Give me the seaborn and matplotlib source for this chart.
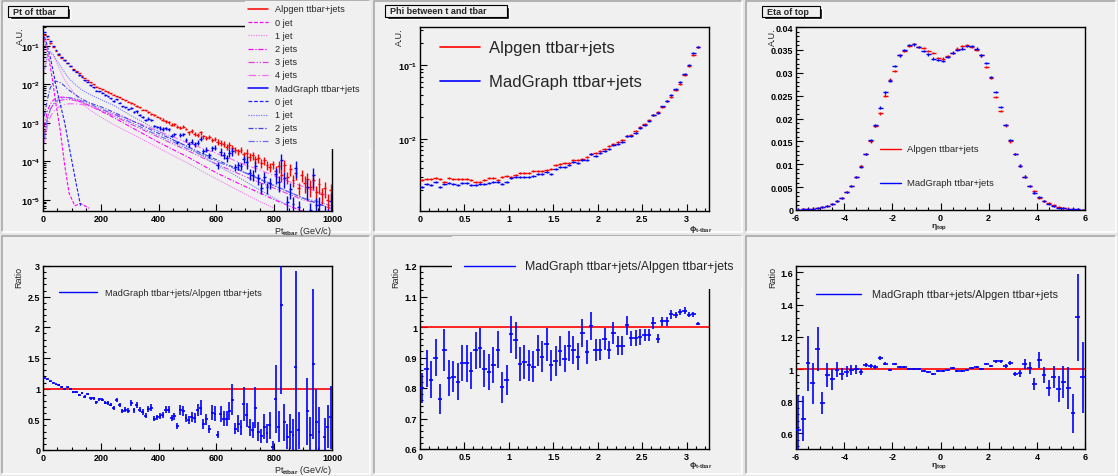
import numpy as np
import pandas as pd
import matplotlib
matplotlib.use("Agg")
import matplotlib.pyplot as plt
import seaborn as sns
from matplotlib.patches import Rectangle
from matplotlib.lines import Line2D
from matplotlib.ticker import LogLocator, NullFormatter, MultipleLocator, FuncFormatter

sns.set_style("ticks")
plt.rcParams["font.family"] = ["Liberation Sans", "DejaVu Sans"]
plt.rcParams["font.weight"] = "bold"
plt.rcParams["mathtext.fontset"] = "custom"
plt.rcParams["mathtext.rm"] = "Liberation Sans:bold"
plt.rcParams["mathtext.it"] = "Liberation Sans:bold"
plt.rcParams["mathtext.bf"] = "Liberation Sans:bold"
plt.rcParams["mathtext.default"] = "rm"

nan = np.nan

# ---------------- data: Pt of ttbar (10 GeV bins) ----------------
pt_bins = np.arange(5, 1000, 10)
pt_alpgen = [0.195, 0.151, 0.115, 0.091, 0.072, 0.059, 0.049, 0.042, 0.035, 0.030,
             0.025, 0.022, 0.019, 0.0166, 0.0145, 0.0129, 0.0112, 0.0100, 0.0087, 0.0079,
             0.0074, 0.0068, 0.0063, 0.0058, 0.0054, 0.0049, 0.0046, 0.0042, 0.0038, 0.0035,
             0.0032, 0.0030, 0.0027, 0.0025, 0.0022, 0.0021, 0.0019, 0.0017, 0.0016, 0.00145,
             0.00132, 0.00120, 0.00110, 0.00102, 0.00089, 0.00091, 0.00079, 0.00074, 0.00079, 0.00069,
             0.00056, 0.00060, 0.00052, 0.00047, 0.00056, 0.00044, 0.00040, 0.00042, 0.00035, 0.00038,
             0.00032, 0.00030, 0.00028, 0.00024, 0.00026, 0.00022, 0.00020, 0.00018, 0.00020, 0.00015,
             0.000166, 0.000132, 0.000141, 0.000112, 0.000120, 0.000089, 0.000105, 0.000079, 0.000071, 0.000083,
             0.000056, 0.000076, 0.000045, 0.000079, 0.000040, 0.000063, 0.000032, 0.000050, 0.000020, 0.000045,
             0.000028, 0.000035, 0.000022, 0.000032, 0.000016, 0.000025, 0.000014, 0.000020, 0.000010, 0.000018]
pt_madgraph = [0.228, 0.174, 0.129, 0.100, 0.0774, 0.0624, 0.0505, 0.0413, 0.0362, 0.0295,
               0.0239, 0.0208, 0.0171, 0.0154, 0.0126, 0.0117, 0.00942, 0.00839, 0.00679, 0.00659,
               0.00608, 0.0052, 0.00485, 0.00426, 0.00366, 0.00402, 0.00333, 0.00267, 0.00251, 0.00222,
               0.00243, 0.00192, 0.00196, 0.00162, 0.00139, 0.00117, 0.00128, 0.0012, 0.00081, 0.000766,
               0.000738, 0.000685, 0.000724, 0.000676, 0.000463, 0.000501, 0.00031, 0.000482, 0.000501, 0.00036,
               0.000275, 0.000325, 0.000273, 0.000304, 0.000388, 0.000183, 0.000199, 0.000142, 0.000216, 0.000224,
               0.000079, 0.000178, 0.000144, 0.000122, 0.000168, 0.000179, 0.0000698, 0.000078, 0.000074, 0.000114,
               0.000095, 0.000049, 0.000045, 0.000077, 0.000036, 0.0000205, 0.000040, 0.000021, 0.000028, 0.0000042,
               0.000047, 0.000029, 0.000106, 0.000036, 0.0000087, 0.000019, 0.0000079, 0.000068, 0.0000064, nan,
               nan, 0.000022, 0.0000054, 0.000044, 0.0000071, 0.0000075, nan, 0.0000044, 0.0000038, 0.0000094]
# relative errors, one estimate per 100 GeV block
pt_alpgen_relerr = np.repeat([0.01, 0.02, 0.035, 0.05, 0.08, 0.12, 0.18, 0.25, 0.35, 0.45], 10)
pt_madgraph_relerr = np.repeat([0.012, 0.025, 0.04, 0.07, 0.10, 0.15, 0.22, 0.32, 0.45, 0.55], 10)

pt_ratio = [1.17, 1.15, 1.12, 1.10, 1.07, 1.06, 1.03, 0.99, 1.02, 1.00,
            0.95, 0.95, 0.90, 0.93, 0.87, 0.91, 0.84, 0.84, 0.78, 0.83,
            0.82, 0.77, 0.77, 0.74, 0.68, 0.82, 0.73, 0.64, 0.66, 0.64,
            0.77, 0.65, 0.73, 0.66, 0.62, 0.56, 0.67, 0.69, 0.51, 0.53,
            0.56, 0.57, 0.66, 0.66, 0.52, 0.55, 0.39, 0.65, 0.63, 0.52,
            0.49, 0.54, 0.52, 0.65, 0.69, 0.42, 0.50, 0.34, 0.61, 0.59,
            0.25, 0.59, 0.51, 0.51, 0.64, 0.82, 0.35, 0.43, 0.37, 0.75,
            0.57, 0.37, 0.32, 0.69, 0.30, 0.23, 0.38, 0.27, 0.40, 0.05,
            0.83, 0.38, 2.37, 0.45, 0.22, 0.30, 0.25, 1.36, 0.32, nan,
            nan, 0.63, 0.24, 1.40, 0.45, 0.30, nan, 0.22, 0.38, 0.53]
pt_ratio_err = [0.010, 0.010, 0.010, 0.010, 0.012, 0.012, 0.013, 0.014, 0.015, 0.015,
                0.016, 0.017, 0.018, 0.019, 0.020, 0.021, 0.022, 0.023, 0.024, 0.025,
                0.026, 0.028, 0.029, 0.030, 0.031, 0.033, 0.034, 0.035, 0.036, 0.038,
                0.045, 0.040, 0.045, 0.042, 0.045, 0.045, 0.050, 0.055, 0.040, 0.045,
                0.050, 0.050, 0.060, 0.060, 0.055, 0.060, 0.045, 0.080, 0.080, 0.070,
                0.070, 0.080, 0.080, 0.100, 0.120, 0.080, 0.090, 0.070, 0.120, 0.120,
                0.060, 0.130, 0.120, 0.120, 0.150, 0.250, 0.090, 0.140, 0.120, 0.270,
                0.200, 0.140, 0.130, 0.330, 0.150, 0.120, 0.200, 0.150, 0.220, 0.100,
                0.550, 0.250, 1.450, 0.300, 0.200, 0.280, 0.250, 1.560, 0.300, 0.0,
                0.0, 0.550, 0.300, 1.220, 0.550, 0.400, 0.0, 0.300, 0.350, 0.520]

# jet-multiplicity components (sampled along pt)
comp_pt = [5, 15, 25, 35, 45, 60, 75, 90, 110, 130, 160, 200, 250, 300, 350, 400,
           450, 500, 550, 600, 650, 700, 750, 800, 850, 900, 950, 995]
alp_0j = [0.15, 0.07, 0.03, 0.01, 0.003, 6e-4, 8e-5, 1.5e-5, 7e-6, 8e-6, 6e-6] + [nan] * 17
alp_1j = [0.02, 0.05, 0.065, 0.055, 0.04, 0.022, 0.013, 0.009, 0.0055, 0.0035, 0.0022, 0.0014,
          8.5e-4, 5.5e-4, 3.5e-4, 2.2e-4, 1.4e-4, 9e-5, 5.5e-5, 3.5e-5, 2.2e-5, 1.4e-5, 9e-6, 6e-6,
          nan, nan, nan, nan]
alp_2j = [8e-4, 2e-3, 3e-3, 3.8e-3, 4.3e-3, 4.6e-3, 4.6e-3, 4.4e-3, 4e-3, 3.5e-3, 2.8e-3, 2e-3,
          1.3e-3, 8e-4, 5e-4, 3.1e-4, 2e-4, 1.3e-4, 8e-5, 5e-5, 3.3e-5, 2.2e-5, 1.5e-5, 1e-5,
          7e-6, 5e-6, nan, nan]
alp_3j = [5e-4, 1.3e-3, 2.2e-3, 2.9e-3, 3.4e-3, 3.8e-3, 4e-3, 4e-3, 3.8e-3, 3.4e-3, 2.8e-3, 2.1e-3,
          1.45e-3, 9.5e-4, 6.3e-4, 4.2e-4, 2.8e-4, 1.9e-4, 1.25e-4, 8.5e-5, 5.8e-5, 4e-5, 2.8e-5,
          2e-5, 1.4e-5, 1e-5, 8e-6, 6e-6]
alp_4j = [3e-4, 8e-4, 1.4e-3, 1.9e-3, 2.3e-3, 2.7e-3, 3e-3, 3.1e-3, 3.1e-3, 3e-3, 2.7e-3, 2.2e-3,
          1.65e-3, 1.2e-3, 8.5e-4, 6e-4, 4.3e-4, 3e-4, 2.2e-4, 1.6e-4, 1.15e-4, 8e-5, 6e-5, 4.2e-5,
          3e-5, 2.2e-5, 1.6e-5, 1.2e-5]
mg_0j = [0.17, 0.1, 0.05, 0.022, 0.009, 3e-3, 1e-3, 2.5e-4, 4e-5, 7e-6] + [nan] * 18
mg_1j = [0.025, 0.055, 0.07, 0.06, 0.045, 0.03, 0.02, 0.014, 0.01, 7.5e-3, 5.5e-3, 4e-3, 2.7e-3,
         1.6e-3, 1e-3, 6e-4, 3.6e-4, 2.4e-4, 1.4e-4, 8e-5, 5e-5, 3e-5, 1.8e-5, 1.1e-5, 7e-6,
         nan, nan, nan]
mg_2j = [1.5e-3, 4e-3, 8e-3, 0.011, 0.012, 0.011, 9e-3, 7e-3, 5.5e-3, 4.3e-3, 3.3e-3, 2.6e-3,
         1.8e-3, 1.2e-3, 8e-4, 5.3e-4, 3.6e-4, 2.4e-4, 1.6e-4, 1.1e-4, 7.5e-5, 5e-5, 3.4e-5,
         2.3e-5, 1.6e-5, 1.1e-5, 8e-6, 6e-6]
mg_3j = [4e-4, 1.2e-3, 2.2e-3, 3e-3, 3.6e-3, 4.2e-3, 4.5e-3, 4.5e-3, 4.2e-3, 3.8e-3, 3.1e-3, 2.3e-3,
         1.6e-3, 1.05e-3, 7e-4, 4.6e-4, 3.2e-4, 2.1e-4, 1.45e-4, 1e-4, 7e-5, 5e-5, 3.5e-5, 2.4e-5,
         1.6e-5, 1.1e-5, 9e-6, 7e-6]

# ---------------- data: phi between t and tbar (0.05 bins) ----------------
phi_bins = np.round(np.arange(63) * 0.05 + 0.025, 3)
phi_alpgen = np.array([2.76, 2.82, 2.85, 2.88, 2.85, 2.56, 2.94, 2.85, 2.85, 2.79,
                       2.79, 2.70, 2.56, 2.56, 2.76, 2.94, 2.94, 2.76, 3.00, 3.06,
                       3.00, 3.16, 3.44, 3.37, 3.44, 3.59, 3.59, 3.62, 3.74, 3.82,
                       4.33, 4.52, 4.61, 4.66, 5.17, 5.12, 5.23, 5.62, 6.11, 6.31,
                       6.79, 7.16, 7.86, 8.37, 9.01, 9.69, 10.9, 11.3, 12.6, 14.6,
                       15.7, 17.8, 20.8, 23.1, 27.0, 32.3, 37.4, 45.6, 56.2, 73.1,
                       96.9, 140.0, 176.0]) * 1e-3
phi_madgraph = np.array([2.21, 2.43, 2.36, 2.59, 2.18, 2.37, 2.45, 2.39, 2.34, 2.46,
                         2.46, 2.31, 2.36, 2.39, 2.38, 2.50, 2.58, 2.56, 2.41, 2.53,
                         2.93, 3.02, 3.02, 2.98, 3.01, 3.12, 3.31, 3.27, 3.53, 3.34,
                         3.85, 4.16, 4.13, 4.37, 4.78, 4.62, 5.13, 5.16, 6.13, 5.84,
                         6.29, 6.88, 7.27, 8.20, 8.46, 9.10, 10.95, 10.9, 12.1, 14.1,
                         15.3, 17.3, 21.1, 22.2, 27.5, 32.9, 38.9, 47.4, 59.0, 77.0,
                         100.8, 145.7, 178.0]) * 1e-3
phi_relerr = 0.03
phi_ratio = [0.800, 0.863, 0.827, 0.900, 0.764, 0.925, 0.833, 0.837, 0.821, 0.882,
             0.881, 0.857, 0.923, 0.932, 0.863, 0.852, 0.876, 0.926, 0.802, 0.827,
             0.976, 0.956, 0.879, 0.885, 0.874, 0.870, 0.923, 0.903, 0.943, 0.874,
             0.888, 0.921, 0.896, 0.937, 0.925, 0.903, 0.980, 0.918, 1.003, 0.925,
             0.926, 0.961, 0.925, 0.980, 0.939, 0.939, 1.005, 0.963, 0.964, 0.967,
             0.974, 0.974, 1.013, 0.961, 1.019, 1.019, 1.041, 1.040, 1.049, 1.054,
             1.040, 1.041, 1.011]
phi_ratio_err = [0.050, 0.060, 0.060, 0.060, 0.050, 0.070, 0.060, 0.050, 0.060, 0.060,
                 0.060, 0.060, 0.060, 0.065, 0.060, 0.060, 0.060, 0.060, 0.050, 0.050,
                 0.060, 0.060, 0.055, 0.055, 0.050, 0.050, 0.050, 0.050, 0.055, 0.050,
                 0.050, 0.050, 0.045, 0.050, 0.045, 0.045, 0.045, 0.040, 0.045, 0.035,
                 0.035, 0.035, 0.030, 0.035, 0.030, 0.030, 0.030, 0.025, 0.025, 0.025,
                 0.020, 0.020, 0.020, 0.015, 0.015, 0.015, 0.015, 0.010, 0.010, 0.010,
                 0.008, 0.008, 0.006]

# ---------------- data: eta of top (0.2 bins) ----------------
eta_bins = np.round(np.arange(60) * 0.2 - 5.9, 2)
eta_alpgen = [0.00008, 0.00012, 0.0002, 0.0003, 0.0004, 0.0006, 0.0009, 0.0013, 0.0020, 0.0027,
              0.0040, 0.0053, 0.0072, 0.0096, 0.0122, 0.0150, 0.0184, 0.0211, 0.0250, 0.0285,
              0.0304, 0.0338, 0.0347, 0.0359, 0.0363, 0.0356, 0.0354, 0.0348, 0.0343, 0.0333,
              0.0331, 0.0336, 0.0343, 0.0353, 0.0358, 0.0361, 0.0357, 0.0350, 0.0338, 0.0312,
              0.0289, 0.0247, 0.0216, 0.0185, 0.0150, 0.0122, 0.0097, 0.0073, 0.0053, 0.0042,
              0.0027, 0.0020, 0.0015, 0.0010, 0.0006, 0.0004, 0.0003, 0.0002, 0.0001, 0.00006]
eta_madgraph = [0.00008, 0.00015, 0.0002, 0.0003, 0.0004, 0.0007, 0.0009, 0.0013, 0.0020, 0.0027,
                0.0040, 0.0053, 0.0072, 0.0095, 0.0123, 0.0152, 0.0185, 0.0224, 0.0257, 0.0283,
                0.0314, 0.0338, 0.0350, 0.0360, 0.0362, 0.0356, 0.0347, 0.0340, 0.0331, 0.0328,
                0.0326, 0.0334, 0.0344, 0.0349, 0.0353, 0.0359, 0.0358, 0.0353, 0.0338, 0.0321,
                0.0290, 0.0258, 0.0225, 0.0186, 0.0153, 0.0122, 0.0097, 0.0073, 0.0053, 0.0038,
                0.0028, 0.0020, 0.0013, 0.0009, 0.0005, 0.0004, 0.0002, 0.0002, 0.00013, 0.00006]
eta_err = 0.00025
eta_ratio = [0.62, 0.69, 1.036, 0.91, 1.125, 0.79, 0.963, 0.936, 0.996, 0.969,
             0.984, 0.992, 0.998, 0.982, 1.025, 1.019, 1.011, 1.069, 1.032, 0.994,
             1.032, 1.015, 1.015, 1.002, 1.000, 1.000, 0.986, 0.980, 0.969, 0.986,
             0.986, 0.994, 1.007, 0.990, 0.986, 0.994, 1.004, 1.015, 1.002, 1.032,
             1.019, 1.048, 1.048, 1.021, 1.038, 0.969, 0.973, 1.032, 1.007, 0.907,
             1.056, 0.965, 0.882, 0.949, 0.874, 0.917, 0.880, 0.724, 1.322, 0.949]
eta_ratio_err = [0.22, 0.14, 0.17, 0.125, 0.135, 0.07, 0.075, 0.065, 0.045, 0.04,
                 0.035, 0.03, 0.03, 0.02, 0.015, 0.012, 0.012, 0.01, 0.01, 0.008,
                 0.006, 0.006, 0.006, 0.006, 0.006, 0.006, 0.006, 0.006, 0.006, 0.006,
                 0.006, 0.006, 0.006, 0.006, 0.006, 0.006, 0.006, 0.006, 0.006, 0.006,
                 0.008, 0.01, 0.01, 0.012, 0.012, 0.015, 0.02, 0.03, 0.035, 0.035,
                 0.05, 0.05, 0.05, 0.07, 0.08, 0.1, 0.13, 0.12, 0.27, 0.22]

PAD = "#f0f0f0"
W, H = 1118, 477
fig = plt.figure(figsize=(W / 100, H / 100), dpi=100, facecolor="#e6e6e6")


def fx(x):
    return x / W


def fy(y):
    return 1 - y / H


def axes_px(l, t, r, b):
    ax = fig.add_axes([l / W, 1 - b / H, (r - l) / W, (b - t) / H])
    ax.set_facecolor("none")
    return ax


def style_axes(ax):
    for s in ax.spines.values():
        s.set_color("black")
        s.set_linewidth(1.0)
    ax.tick_params(which="both", direction="in", top=False, right=False,
                   labelsize=6.5, pad=2, width=0.8, colors="black")
    ax.tick_params(which="major", length=5)
    ax.tick_params(which="minor", length=2.5)


def lin_ticks(ax, axis, major, minor):
    a = ax.xaxis if axis == "x" else ax.yaxis
    a.set_major_locator(MultipleLocator(major))
    a.set_minor_locator(MultipleLocator(minor))
    a.set_major_formatter(FuncFormatter(lambda v, p: f"{v:g}"))


def log_ticks(ax):
    ax.yaxis.set_major_locator(LogLocator(base=10, numticks=15))
    ax.yaxis.set_minor_locator(LogLocator(base=10, subs=np.arange(2, 10), numticks=15))
    ax.yaxis.set_minor_formatter(NullFormatter())


def points(ax, x, y, xerr, yerr, color, lw=1.0):
    ax.errorbar(x, y, xerr=xerr, yerr=yerr, fmt="none", ecolor=color,
                elinewidth=lw, capsize=0, zorder=3)


def legend_row(x0, x1, xt, y, color, ls, label, size, lw=1.0):
    fig.add_artist(Line2D([fx(x0), fx(x1)], [fy(y), fy(y)], transform=fig.transFigure,
                          color=color, ls=ls, lw=lw, zorder=9))
    fig.text(fx(xt), fy(y), label, fontsize=size, fontweight="normal",
             va="center", ha="left", zorder=9)


def title_box(l, t, r, b, text):
    fig.add_artist(Rectangle((fx(l + 1.5), fy(b + 1.5)), (r - l) / W, (b - t) / H,
                             transform=fig.transFigure, facecolor="black", zorder=7))
    fig.add_artist(Rectangle((fx(l), fy(b)), (r - l) / W, (b - t) / H,
                             transform=fig.transFigure, facecolor=PAD,
                             edgecolor="black", lw=0.8, zorder=7))
    fig.text(fx(l + 5), fy((t + b) / 2), text, fontsize=6.5, fontweight="bold",
             va="center", ha="left", zorder=8)


# pads (sunken bevel like the ROOT canvas)
for l, t, r, b in [(0, 0, 372, 235), (372, 0, 744, 235), (744, 0, 1118, 235),
                   (0, 235, 372, 477), (372, 235, 744, 477), (744, 235, 1118, 477)]:
    fig.add_artist(Rectangle((fx(l + 2), fy(b - 2)), (r - l - 4) / W, (b - t - 4) / H,
                             transform=fig.transFigure, facecolor=PAD, edgecolor="none", zorder=-10))
    fig.add_artist(Line2D([fx(l + 2), fx(l + 2), fx(r - 2)], [fy(b - 2), fy(t + 2), fy(t + 2)],
                          transform=fig.transFigure, color="#a8a8a8", lw=1.2, zorder=-9))
    fig.add_artist(Line2D([fx(l + 2), fx(r - 2), fx(r - 2)], [fy(b - 2), fy(b - 2), fy(t + 2)],
                          transform=fig.transFigure, color="white", lw=1.2, zorder=-9))

alp_styles = [("0 jet", alp_0j, "#ff00ff", (0, (3, 1.5))),
              ("1 jet", alp_1j, "#f07cf0", (0, (1, 1))),
              ("2 jets", alp_2j, "#ff00ff", (0, (4, 1.5, 1, 1.5))),
              ("3 jets", alp_3j, "#e040e0", (0, (5, 1.5, 1, 1.5, 1, 1.5))),
              ("4 jets", alp_4j, "#ff66ff", (0, (6, 2, 1, 2)))]
mg_styles = [("0 jet", mg_0j, "#2020ff", (0, (3, 1.5))),
             ("1 jet", mg_1j, "#7a7aff", (0, (1, 1))),
             ("2 jets", mg_2j, "#4040e0", (0, (4, 1.5, 1, 1.5))),
             ("3 jets", mg_3j, "#6a6aff", (0, (5, 1.5, 1, 1.5, 1, 1.5)))]

PHI_LABEL = r"$\phi_{t\text{-}tbar}$"

# ---------------- panel 1: Pt of ttbar ----------------
ax1 = axes_px(43, 27, 332, 212)
ax1.set_yscale("log")
for name, vals, c, ls in alp_styles + mg_styles:
    sns.lineplot(x=comp_pt, y=vals, ax=ax1, color=c, linestyle=ls, lw=0.8, errorbar=None)
pa = np.array(pt_alpgen)
pm = np.array(pt_madgraph)
points(ax1, pt_bins, pa, 5, pa * pt_alpgen_relerr, "red")
points(ax1, pt_bins, pm, 5, pm * pt_madgraph_relerr, "blue")
ax1.set_xlim(0, 1000)
ax1.set_ylim(5.1e-6, 0.325)
style_axes(ax1)
lin_ticks(ax1, "x", 200, 50)
log_ticks(ax1)
ax1.set_xlabel(r"Pt$_{ttbar}$ (GeV/c)", loc="right", fontsize=6.5)
ax1.xaxis.set_label_coords(1.0, -0.072)
ax1.set_ylabel("A.U.", loc="top", fontsize=6.5)
ax1.yaxis.set_label_coords(-18 / 289, 1.0)

fig.add_artist(Rectangle((fx(245), fy(150)), 126 / W, 148 / H, transform=fig.transFigure,
                         facecolor=PAD, edgecolor="none", zorder=8))
rows = [("Alpgen ttbar+jets", "red", "-")] + [(n, c, ls) for n, _, c, ls in alp_styles] + \
       [("MadGraph ttbar+jets", "blue", "-")] + [(n, c, ls) for n, _, c, ls in mg_styles]
for i, (lab, c, ls) in enumerate(rows):
    legend_row(248, 268, 275, 10 + 13.2 * i, c, ls, lab, 6.6, lw=1.1 if ls == "-" else 0.9)

# ---------------- panel 2: phi ----------------
ax2 = axes_px(420, 28, 709, 212)
ax2.set_yscale("log")
points(ax2, phi_bins, phi_alpgen, 0.025, phi_alpgen * phi_relerr, "red")
points(ax2, phi_bins, phi_madgraph, 0.025, phi_madgraph * phi_relerr, "blue")
ax2.set_xlim(0, 3.25)
ax2.set_ylim(1.03e-3, 0.334)
style_axes(ax2)
lin_ticks(ax2, "x", 0.5, 0.1)
log_ticks(ax2)
ax2.set_xlabel(PHI_LABEL, loc="right", fontsize=6)
ax2.xaxis.set_label_coords(1.01, -0.065)
ax2.set_ylabel("A.U.", loc="top", fontsize=6.5)
ax2.yaxis.set_label_coords(-16 / 289, 1.0)
legend_row(440, 480, 489, 48, "red", "-", "Alpgen ttbar+jets", 12, lw=1.2)
legend_row(440, 480, 489, 82, "blue", "-", "MadGraph ttbar+jets", 12, lw=1.2)

# ---------------- panel 3: eta ----------------
ax3 = axes_px(796, 28, 1085, 211)
points(ax3, eta_bins, eta_alpgen, 0.1, eta_err, "red")
points(ax3, eta_bins, eta_madgraph, 0.1, eta_err, "blue")
ax3.set_xlim(-6, 6)
ax3.set_ylim(0, 0.04)
style_axes(ax3)
lin_ticks(ax3, "x", 2, 0.5)
lin_ticks(ax3, "y", 0.005, 0.001)
ax3.set_xlabel(r"$\eta_{top}$", loc="center", fontsize=6)
ax3.xaxis.set_label_coords(0.495, -0.062)
ax3.set_ylabel("A.U.", loc="top", fontsize=6.5)
ax3.yaxis.set_label_coords(-19 / 289, 1.0)
legend_row(880, 901, 907, 150, "red", "-", "Alpgen ttbar+jets", 6.8)
legend_row(880, 901, 907, 184, "blue", "-", "MadGraph ttbar+jets", 6.8)

# ---------------- panel 4: Pt ratio ----------------
ax4 = axes_px(43, 267, 332, 451)
points(ax4, pt_bins, pt_ratio, 5, pt_ratio_err, "blue", lw=1.2)
ax4.axhline(1, color="red", lw=1.2, zorder=2)
ax4.set_xlim(0, 1000)
ax4.set_ylim(0, 3)
style_axes(ax4)
lin_ticks(ax4, "x", 200, 50)
lin_ticks(ax4, "y", 0.5, 0.1)
ax4.set_xlabel(r"Pt$_{ttbar}$ (GeV/c)", loc="right", fontsize=6.5)
ax4.xaxis.set_label_coords(1.0, -0.072)
ax4.set_ylabel("Ratio", loc="top", fontsize=6.5)
ax4.yaxis.set_label_coords(-20 / 289, 1.0)
legend_row(59, 97, 105, 293, "blue", "-", "MadGraph ttbar+jets/Alpgen ttbar+jets", 6.6)

# ---------------- panel 5: phi ratio ----------------
ax5 = axes_px(420, 267, 709, 450)
points(ax5, phi_bins, phi_ratio, 0.025, phi_ratio_err, "blue", lw=1.2)
ax5.axhline(1, color="red", lw=1.2, zorder=2)
ax5.set_xlim(0, 3.25)
ax5.set_ylim(0.6, 1.2)
style_axes(ax5)
lin_ticks(ax5, "x", 0.5, 0.1)
lin_ticks(ax5, "y", 0.1, 0.02)
ax5.set_xlabel(PHI_LABEL, loc="right", fontsize=6)
ax5.xaxis.set_label_coords(1.01, -0.055)
ax5.set_ylabel("Ratio", loc="top", fontsize=6.5)
ax5.yaxis.set_label_coords(-20 / 289, 1.0)
fig.add_artist(Rectangle((fx(452), fy(290)), 290 / W, 53 / H, transform=fig.transFigure,
                         facecolor=PAD, edgecolor="none", zorder=8))
legend_row(464, 515, 525, 267, "blue", "-", "MadGraph ttbar+jets/Alpgen ttbar+jets", 8.8)

# ---------------- panel 6: eta ratio ----------------
ax6 = axes_px(796, 267, 1085, 450)
points(ax6, eta_bins, eta_ratio, 0.1, eta_ratio_err, "blue", lw=1.2)
ax6.axhline(1, color="red", lw=1.2, zorder=2)
ax6.set_xlim(-6, 6)
ax6.set_ylim(0.503, 1.64)
style_axes(ax6)
lin_ticks(ax6, "x", 2, 0.5)
lin_ticks(ax6, "y", 0.2, 0.04)
ax6.set_xlabel(r"$\eta_{top}$", loc="center", fontsize=6)
ax6.xaxis.set_label_coords(0.495, -0.062)
ax6.set_ylabel("Ratio", loc="top", fontsize=6.5)
ax6.yaxis.set_label_coords(-19 / 289, 1.0)
legend_row(816, 861, 872, 295, "blue", "-", "MadGraph ttbar+jets/Alpgen ttbar+jets", 7.8)

title_box(8, 7, 68, 18, "Pt of ttbar")
title_box(385, 6, 507, 18, "Phi between t and tbar")
title_box(762, 7, 820, 18, "Eta of top")

fig.savefig("out.png", dpi=100, facecolor=fig.get_facecolor())
